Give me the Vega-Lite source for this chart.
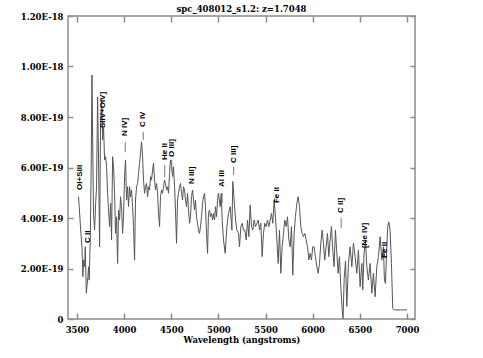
{
  "$schema": "https://vega.github.io/schema/vega-lite/v6.json",
  "width": 347,
  "height": 303,
  "autosize": {"type": "none"},
  "padding": {"left": 68, "top": 16, "right": 68, "bottom": 39},
  "title": {"text": "spc_408012_s1.2: z=1.7048", "font": "DejaVu Serif", "fontSize": 8.5, "fontWeight": "bold", "color": "black", "offset": -1, "anchor": "middle"},
  "config": {
    "view": {"stroke": "#8c8c8c", "strokeWidth": 1.5},
    "axis": {"domain": false, "grid": false, "tickColor": "#8c8c8c", "tickWidth": 1.5, "labelFont": "DejaVu Serif", "labelFontWeight": "bold", "labelFontSize": 8.5, "labelColor": "black", "titleFont": "DejaVu Serif", "titleFontWeight": "bold", "titleFontSize": 8.5, "titleColor": "black"}
  },
  "datasets": {
    "spec": [
      {"wl": 3517, "flux": 4.84e-19}, {"wl": 3524, "flux": 4.45e-19}, {"wl": 3535, "flux": 3.79e-19}, {"wl": 3542, "flux": 3.39e-19},
      {"wl": 3553, "flux": 2.86e-19}, {"wl": 3563, "flux": 1.68e-19}, {"wl": 3570, "flux": 2.34e-19}, {"wl": 3581, "flux": 2.07e-19},
      {"wl": 3588, "flux": 2.86e-19}, {"wl": 3599, "flux": 1.02e-19}, {"wl": 3606, "flux": 1.28e-19}, {"wl": 3616, "flux": 1.68e-19},
      {"wl": 3623, "flux": 2.07e-19}, {"wl": 3630, "flux": 1.54e-19}, {"wl": 3641, "flux": 3.13e-19}, {"wl": 3652, "flux": 6.30e-19},
      {"wl": 3659, "flux": 9.66e-19}, {"wl": 3669, "flux": 6.30e-19}, {"wl": 3676, "flux": 4.18e-19}, {"wl": 3687, "flux": 3.52e-19},
      {"wl": 3698, "flux": 4.58e-19}, {"wl": 3708, "flux": 5.24e-19}, {"wl": 3719, "flux": 8.80e-19}, {"wl": 3729, "flux": 6.30e-19},
      {"wl": 3740, "flux": 2.86e-19}, {"wl": 3750, "flux": 7.62e-19}, {"wl": 3761, "flux": 8.67e-19}, {"wl": 3772, "flux": 7.09e-19},
      {"wl": 3782, "flux": 7.62e-19}, {"wl": 3793, "flux": 6.30e-19}, {"wl": 3804, "flux": 6.43e-19}, {"wl": 3814, "flux": 6.03e-19},
      {"wl": 3825, "flux": 4.98e-19}, {"wl": 3835, "flux": 4.32e-19}, {"wl": 3846, "flux": 3.66e-19}, {"wl": 3857, "flux": 4.58e-19},
      {"wl": 3867, "flux": 3.13e-19}, {"wl": 3878, "flux": 6.43e-19}, {"wl": 3888, "flux": 6.03e-19}, {"wl": 3899, "flux": 4.98e-19},
      {"wl": 3909, "flux": 3.39e-19}, {"wl": 3920, "flux": 4.05e-19}, {"wl": 3931, "flux": 2.20e-19}, {"wl": 3941, "flux": 4.32e-19},
      {"wl": 3952, "flux": 3.92e-19}, {"wl": 3962, "flux": 4.84e-19}, {"wl": 3973, "flux": 4.45e-19}, {"wl": 3984, "flux": 3.39e-19},
      {"wl": 3994, "flux": 4.05e-19}, {"wl": 4005, "flux": 5.64e-19}, {"wl": 4015, "flux": 6.30e-19}, {"wl": 4026, "flux": 4.71e-19},
      {"wl": 4037, "flux": 5.24e-19}, {"wl": 4047, "flux": 4.45e-19}, {"wl": 4058, "flux": 5.24e-19}, {"wl": 4068, "flux": 4.84e-19},
      {"wl": 4079, "flux": 5.11e-19}, {"wl": 4090, "flux": 4.45e-19}, {"wl": 4100, "flux": 3.66e-19}, {"wl": 4111, "flux": 2.34e-19},
      {"wl": 4121, "flux": 4.71e-19}, {"wl": 4132, "flux": 5.24e-19}, {"wl": 4143, "flux": 5.37e-19}, {"wl": 4153, "flux": 5.77e-19},
      {"wl": 4164, "flux": 6.17e-19}, {"wl": 4174, "flux": 6.56e-19}, {"wl": 4185, "flux": 7.02e-19}, {"wl": 4196, "flux": 6.43e-19},
      {"wl": 4206, "flux": 5.50e-19}, {"wl": 4217, "flux": 4.98e-19}, {"wl": 4227, "flux": 5.24e-19}, {"wl": 4238, "flux": 5.37e-19},
      {"wl": 4249, "flux": 4.84e-19}, {"wl": 4259, "flux": 5.24e-19}, {"wl": 4270, "flux": 5.11e-19}, {"wl": 4280, "flux": 5.64e-19},
      {"wl": 4291, "flux": 5.50e-19}, {"wl": 4302, "flux": 5.90e-19}, {"wl": 4312, "flux": 6.17e-19}, {"wl": 4323, "flux": 5.50e-19},
      {"wl": 4333, "flux": 5.11e-19}, {"wl": 4344, "flux": 5.37e-19}, {"wl": 4355, "flux": 4.98e-19}, {"wl": 4365, "flux": 4.18e-19},
      {"wl": 4376, "flux": 3.66e-19}, {"wl": 4386, "flux": 4.84e-19}, {"wl": 4397, "flux": 5.11e-19}, {"wl": 4408, "flux": 4.98e-19},
      {"wl": 4418, "flux": 5.24e-19}, {"wl": 4429, "flux": 5.50e-19}, {"wl": 4439, "flux": 5.37e-19}, {"wl": 4450, "flux": 5.11e-19},
      {"wl": 4461, "flux": 5.24e-19}, {"wl": 4471, "flux": 4.98e-19}, {"wl": 4482, "flux": 5.77e-19}, {"wl": 4492, "flux": 6.30e-19},
      {"wl": 4503, "flux": 6.03e-19}, {"wl": 4514, "flux": 5.64e-19}, {"wl": 4524, "flux": 6.03e-19}, {"wl": 4535, "flux": 5.24e-19},
      {"wl": 4545, "flux": 4.32e-19}, {"wl": 4556, "flux": 3.00e-19}, {"wl": 4567, "flux": 4.71e-19}, {"wl": 4577, "flux": 4.98e-19},
      {"wl": 4588, "flux": 5.24e-19}, {"wl": 4598, "flux": 5.37e-19}, {"wl": 4609, "flux": 4.98e-19}, {"wl": 4620, "flux": 4.71e-19},
      {"wl": 4630, "flux": 5.24e-19}, {"wl": 4641, "flux": 5.11e-19}, {"wl": 4651, "flux": 4.71e-19}, {"wl": 4662, "flux": 4.45e-19},
      {"wl": 4673, "flux": 4.98e-19}, {"wl": 4683, "flux": 4.32e-19}, {"wl": 4694, "flux": 3.79e-19}, {"wl": 4704, "flux": 4.05e-19},
      {"wl": 4715, "flux": 4.84e-19}, {"wl": 4726, "flux": 5.11e-19}, {"wl": 4736, "flux": 4.71e-19}, {"wl": 4747, "flux": 4.32e-19},
      {"wl": 4757, "flux": 4.71e-19}, {"wl": 4768, "flux": 4.05e-19}, {"wl": 4779, "flux": 3.79e-19}, {"wl": 4789, "flux": 3.52e-19},
      {"wl": 4800, "flux": 3.39e-19}, {"wl": 4810, "flux": 3.66e-19}, {"wl": 4821, "flux": 4.05e-19}, {"wl": 4832, "flux": 4.58e-19},
      {"wl": 4842, "flux": 4.84e-19}, {"wl": 4853, "flux": 4.98e-19}, {"wl": 4863, "flux": 4.45e-19}, {"wl": 4874, "flux": 3.39e-19},
      {"wl": 4885, "flux": 2.60e-19}, {"wl": 4895, "flux": 4.18e-19}, {"wl": 4906, "flux": 4.32e-19}, {"wl": 4916, "flux": 4.05e-19},
      {"wl": 4927, "flux": 4.18e-19}, {"wl": 4938, "flux": 3.92e-19}, {"wl": 4948, "flux": 4.18e-19}, {"wl": 4959, "flux": 3.92e-19},
      {"wl": 4969, "flux": 4.45e-19}, {"wl": 4980, "flux": 4.05e-19}, {"wl": 4991, "flux": 4.71e-19}, {"wl": 5001, "flux": 4.98e-19},
      {"wl": 5019, "flux": 4.45e-19}, {"wl": 5030, "flux": 4.98e-19}, {"wl": 5040, "flux": 3.92e-19}, {"wl": 5054, "flux": 3.13e-19},
      {"wl": 5072, "flux": 2.60e-19}, {"wl": 5090, "flux": 3.66e-19}, {"wl": 5107, "flux": 4.18e-19}, {"wl": 5125, "flux": 4.45e-19},
      {"wl": 5143, "flux": 3.52e-19}, {"wl": 5153, "flux": 5.44e-19}, {"wl": 5167, "flux": 4.71e-19}, {"wl": 5182, "flux": 3.92e-19},
      {"wl": 5196, "flux": 3.52e-19}, {"wl": 5213, "flux": 3.39e-19}, {"wl": 5224, "flux": 2.86e-19}, {"wl": 5238, "flux": 3.66e-19},
      {"wl": 5252, "flux": 3.79e-19}, {"wl": 5266, "flux": 3.52e-19}, {"wl": 5280, "flux": 3.52e-19}, {"wl": 5295, "flux": 3.13e-19},
      {"wl": 5309, "flux": 3.92e-19}, {"wl": 5323, "flux": 3.26e-19}, {"wl": 5337, "flux": 4.51e-19}, {"wl": 5351, "flux": 3.66e-19},
      {"wl": 5365, "flux": 3.52e-19}, {"wl": 5379, "flux": 3.92e-19}, {"wl": 5393, "flux": 3.66e-19}, {"wl": 5408, "flux": 3.79e-19},
      {"wl": 5422, "flux": 3.92e-19}, {"wl": 5436, "flux": 3.52e-19}, {"wl": 5450, "flux": 3.79e-19}, {"wl": 5464, "flux": 2.47e-19},
      {"wl": 5478, "flux": 3.39e-19}, {"wl": 5492, "flux": 3.79e-19}, {"wl": 5506, "flux": 3.66e-19}, {"wl": 5521, "flux": 3.92e-19},
      {"wl": 5535, "flux": 3.66e-19}, {"wl": 5549, "flux": 3.92e-19}, {"wl": 5563, "flux": 4.18e-19}, {"wl": 5577, "flux": 3.79e-19},
      {"wl": 5591, "flux": 4.71e-19}, {"wl": 5605, "flux": 4.05e-19}, {"wl": 5620, "flux": 3.13e-19}, {"wl": 5634, "flux": 2.20e-19},
      {"wl": 5648, "flux": 3.52e-19}, {"wl": 5662, "flux": 1.81e-19}, {"wl": 5676, "flux": 2.86e-19}, {"wl": 5690, "flux": 3.39e-19},
      {"wl": 5704, "flux": 3.92e-19}, {"wl": 5719, "flux": 3.66e-19}, {"wl": 5733, "flux": 4.05e-19}, {"wl": 5747, "flux": 3.13e-19},
      {"wl": 5761, "flux": 2.86e-19}, {"wl": 5775, "flux": 3.66e-19}, {"wl": 5789, "flux": 1.74e-19}, {"wl": 5803, "flux": 3.39e-19},
      {"wl": 5817, "flux": 4.05e-19}, {"wl": 5832, "flux": 4.58e-19}, {"wl": 5846, "flux": 4.84e-19}, {"wl": 5860, "flux": 4.45e-19},
      {"wl": 5874, "flux": 3.66e-19}, {"wl": 5888, "flux": 3.39e-19}, {"wl": 5902, "flux": 3.26e-19}, {"wl": 5916, "flux": 3.39e-19},
      {"wl": 5931, "flux": 3.13e-19}, {"wl": 5945, "flux": 2.86e-19}, {"wl": 5959, "flux": 2.34e-19}, {"wl": 5973, "flux": 2.60e-19},
      {"wl": 5987, "flux": 2.34e-19}, {"wl": 6001, "flux": 2.86e-19}, {"wl": 6015, "flux": 2.86e-19}, {"wl": 6029, "flux": 2.47e-19},
      {"wl": 6044, "flux": 2.07e-19}, {"wl": 6058, "flux": 1.81e-19}, {"wl": 6072, "flux": 2.20e-19}, {"wl": 6086, "flux": 3.00e-19},
      {"wl": 6100, "flux": 3.52e-19}, {"wl": 6114, "flux": 3.00e-19}, {"wl": 6128, "flux": 2.34e-19}, {"wl": 6142, "flux": 2.86e-19},
      {"wl": 6157, "flux": 3.39e-19}, {"wl": 6171, "flux": 2.47e-19}, {"wl": 6185, "flux": 3.13e-19}, {"wl": 6199, "flux": 3.66e-19},
      {"wl": 6213, "flux": 2.73e-19}, {"wl": 6227, "flux": 2.07e-19}, {"wl": 6241, "flux": 3.52e-19}, {"wl": 6256, "flux": 2.60e-19},
      {"wl": 6270, "flux": 1.81e-19}, {"wl": 6284, "flux": 2.47e-19}, {"wl": 6298, "flux": 1.28e-19}, {"wl": 6312, "flux": 0.40e-19},
      {"wl": 6322, "flux": 0.02e-19}, {"wl": 6334, "flux": 1.60e-19}, {"wl": 6348, "flux": 2.30e-19}, {"wl": 6362, "flux": 0.50e-19},
      {"wl": 6379, "flux": 2.20e-19}, {"wl": 6397, "flux": 2.86e-19}, {"wl": 6415, "flux": 2.07e-19}, {"wl": 6432, "flux": 3.00e-19},
      {"wl": 6450, "flux": 2.47e-19}, {"wl": 6468, "flux": 1.81e-19}, {"wl": 6485, "flux": 2.73e-19}, {"wl": 6503, "flux": 1.28e-19},
      {"wl": 6521, "flux": 2.20e-19}, {"wl": 6531, "flux": 1.15e-19}, {"wl": 6545, "flux": 2.60e-19}, {"wl": 6560, "flux": 3.13e-19},
      {"wl": 6574, "flux": 2.07e-19}, {"wl": 6591, "flux": 1.54e-19}, {"wl": 6609, "flux": 2.20e-19}, {"wl": 6627, "flux": 1.02e-19},
      {"wl": 6644, "flux": 1.81e-19}, {"wl": 6662, "flux": 0.88e-19}, {"wl": 6680, "flux": 2.07e-19}, {"wl": 6697, "flux": 2.47e-19},
      {"wl": 6715, "flux": 3.26e-19}, {"wl": 6733, "flux": 2.34e-19}, {"wl": 6750, "flux": 2.86e-19}, {"wl": 6761, "flux": 1.54e-19},
      {"wl": 6772, "flux": 1.41e-19}, {"wl": 6786, "flux": 2.86e-19}, {"wl": 6796, "flux": 3.66e-19}, {"wl": 6807, "flux": 3.85e-19},
      {"wl": 6821, "flux": 3.52e-19}, {"wl": 6835, "flux": 2.20e-19}, {"wl": 6849, "flux": 0.42e-19}, {"wl": 6863, "flux": 0.36e-19},
      {"wl": 6930, "flux": 0.36e-19}, {"wl": 7000, "flux": 0.36e-19}
    ],
    "labels": [
      {"wl": 3535, "y": 5.11e-19, "label": "OI+SiII"},
      {"wl": 3614, "y": 3.01e-19, "label": "C II"},
      {"wl": 3779, "y": 7.56e-19, "label": "SiIV+OIV]"},
      {"wl": 4012, "y": 7.25e-19, "label": "N IV]"},
      {"wl": 4203, "y": 7.60e-19, "label": "C IV"},
      {"wl": 4431, "y": 6.30e-19, "label": "He II"},
      {"wl": 4505, "y": 6.42e-19, "label": "O III]"},
      {"wl": 4722, "y": 5.35e-19, "label": "N III]"},
      {"wl": 5040, "y": 5.23e-19, "label": "Al III"},
      {"wl": 5162, "y": 6.18e-19, "label": "C III]"},
      {"wl": 5623, "y": 4.59e-19, "label": "Fe II"},
      {"wl": 6302, "y": 4.20e-19, "label": "C II]"},
      {"wl": 6556, "y": 2.81e-19, "label": "[Ne IV]"},
      {"wl": 6768, "y": 2.42e-19, "label": "Fe II"}
    ],
    "dashes": [
      {"wl": 4012, "y1": 7.01e-19, "y2": 6.61e-19},
      {"wl": 4203, "y1": 7.41e-19, "y2": 7.09e-19},
      {"wl": 4431, "y1": 6.10e-19, "y2": 5.62e-19},
      {"wl": 4505, "y1": 6.30e-19, "y2": 5.90e-19},
      {"wl": 5040, "y1": 4.99e-19, "y2": 4.59e-19},
      {"wl": 5162, "y1": 6.02e-19, "y2": 5.70e-19},
      {"wl": 6302, "y1": 4.00e-19, "y2": 3.60e-19}
    ]
  },
  "layer": [
    {
      "data": {"name": "spec"},
      "mark": {"type": "line", "color": "#555555", "strokeWidth": 1, "clip": true},
      "encoding": {
        "x": {"field": "wl", "type": "quantitative", "scale": {"domain": [3405, 7085], "nice": false, "zero": false},
              "axis": {"orient": "bottom", "values": [3500, 4000, 4500, 5000, 5500, 6000, 6500, 7000], "format": "d", "tickSize": -6, "labelPadding": 12, "title": "Wavelength (angstroms)", "titlePadding": 2}},
        "y": {"field": "flux", "type": "quantitative", "scale": {"domain": [0, 1.2e-18], "nice": false},
              "axis": {"orient": "left", "values": [0, 2e-19, 4e-19, 6e-19, 8e-19, 1e-18, 1.2e-18], "labelExpr": "datum.value == 0 ? '0' : upper(format(datum.value, '.2e'))", "tickSize": -5, "labelPadding": 10, "title": null}}
      }
    },
    {
      "data": {"name": "dashes"},
      "mark": {"type": "rule", "color": "#777777", "strokeWidth": 1},
      "encoding": {
        "x": {"field": "wl", "type": "quantitative", "axis": {"orient": "top", "values": [3500, 4000, 4500, 5000, 5500, 6000, 6500, 7000], "labels": false, "tickSize": -6, "title": null}},
        "y": {"field": "y1", "type": "quantitative", "axis": {"orient": "right", "values": [0, 2e-19, 4e-19, 6e-19, 8e-19, 1e-18, 1.2e-18], "labels": false, "tickSize": -5, "title": null}},
        "y2": {"field": "y2"}
      }
    },
    {
      "data": {"name": "labels"},
      "mark": {"type": "text", "angle": 270, "align": "left", "baseline": "middle", "font": "Liberation Sans", "fontWeight": "bold", "fontSize": 8, "color": "black"},
      "encoding": {
        "x": {"field": "wl", "type": "quantitative", "axis": null},
        "y": {"field": "y", "type": "quantitative", "axis": null},
        "text": {"field": "label"}
      }
    }
  ],
  "resolve": {"axis": {"x": "independent", "y": "independent"}}
}
